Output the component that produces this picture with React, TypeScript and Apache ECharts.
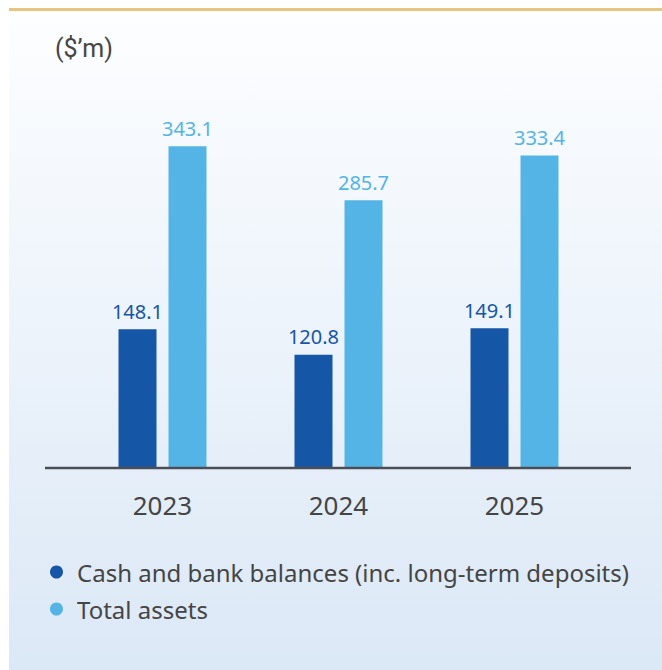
import React, { useEffect, useRef } from "react";
import * as echarts from "echarts";

const categories = ["2023", "2024", "2025"];
const cashValues = [148.1, 120.8, 149.1];
const assetValues = [343.1, 285.7, 333.4];
const seriesNames = ["Cash and bank balances (inc. long-term deposits)", "Total assets"];
const unitLabel = "($\u2019m)";

const DARK = "#1656a7";
const LIGHT = "#55b4e6";
const TEXT = "#454545";
const FONT = "Noto Sans, sans-serif";

export default function App() {
  const ref = useRef<HTMLDivElement>(null);
  useEffect(() => {
    if (!ref.current) return;
    const chart = echarts.init(ref.current, null, { renderer: "svg" });
    chart.setOption({
      animation: false,
      backgroundColor: "#ffffff",
      textStyle: { fontFamily: FONT },
      graphic: [
        {
          type: "rect",
          z: -10,
          silent: true,
          shape: { x: 9, y: 8, width: 653, height: 662 },
          style: {
            fill: new echarts.graphic.LinearGradient(0, 0, 0, 1, [
              { offset: 0, color: "#fdfeff" },
              { offset: 1, color: "#dbe8f6" },
            ]),
          },
        },
        {
          type: "rect",
          z: -5,
          silent: true,
          shape: { x: 9, y: 8, width: 653, height: 3 },
          style: { fill: "#e6c67e" },
        },
        {
          type: "line",
          z: 10,
          silent: true,
          shape: { x1: 45, y1: 468, x2: 631, y2: 468 },
          style: { stroke: "#4b4f55", lineWidth: 2.5 },
        },
        {
          type: "text",
          left: 55,
          top: 36,
          style: { text: unitLabel, fontSize: 25, fill: TEXT, fontFamily: "Roboto, sans-serif" },
        },
      ],
      grid: { left: 74.5, right: 59.5, top: 93, bottom: 202, containLabel: false },
      xAxis: {
        type: "category",
        data: categories,
        axisLine: { show: false },
        axisTick: { show: false },
        axisLabel: { color: TEXT, fontSize: 26, margin: 24, fontFamily: FONT },
      },
      yAxis: {
        type: "value",
        min: 0,
        max: 400,
        show: false,
        splitLine: { show: false },
      },
      legend: {
        orient: "vertical",
        left: 45,
        top: 553,
        icon: "circle",
        itemWidth: 13,
        itemHeight: 13,
        itemGap: 9,
        textStyle: {
          color: TEXT,
          fontSize: 24,
          lineHeight: 28,
          fontFamily: FONT,
          padding: [0, 0, 0, 9],
        },
        data: seriesNames,
      },
      series: [
        {
          name: seriesNames[0],
          type: "bar",
          data: cashValues,
          barWidth: 38,
          barGap: "31.6%",
          itemStyle: { color: DARK },
          label: {
            show: true,
            position: "top",
            distance: 8,
            color: DARK,
            fontSize: 20,
            fontFamily: FONT,
          },
        },
        {
          name: seriesNames[1],
          type: "bar",
          data: assetValues,
          barWidth: 38,
          itemStyle: { color: LIGHT },
          label: {
            show: true,
            position: "top",
            distance: 8,
            color: LIGHT,
            fontSize: 20,
            fontFamily: FONT,
          },
        },
      ],
    });
    return () => chart.dispose();
  }, []);
  return (
    <div
      ref={ref}
      style={{ position: "absolute", left: 0, top: 0, width: 662, height: 670 }}
    />
  );
}
